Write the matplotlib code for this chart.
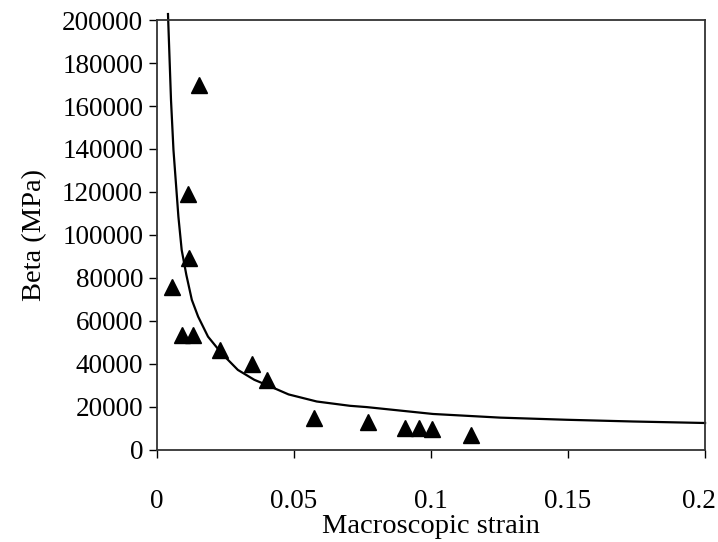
import matplotlib
matplotlib.use("Agg")
import matplotlib.pyplot as plt
import matplotlib.transforms as mtransforms

# measured points (triangles)
strain_pts = [0.0055, 0.0153, 0.0113, 0.0117, 0.0090, 0.0130, 0.0230, 0.0347,
              0.0400, 0.0572, 0.0770, 0.0905, 0.0957, 0.1005, 0.1145]
beta_pts = [76000, 170000, 119000, 89500, 53500, 53500, 46500, 39800,
            32500, 14800, 13000, 10300, 10300, 9600, 6800]

# fitted curve
strain_fit = [0.0040, 0.0051, 0.0060, 0.0069, 0.0078, 0.0090, 0.0107, 0.0127,
              0.0150, 0.0186, 0.0235, 0.0295, 0.0355, 0.0415, 0.0480, 0.0583,
              0.0704, 0.0765, 0.1007, 0.1252, 0.1495, 0.1737, 0.2000]
beta_fit = [202800, 162800, 139500, 124000, 108500, 93000, 81400, 69800,
            62000, 52700, 45000, 37200, 32600, 29400, 25800, 22500,
            20500, 19900, 16700, 15000, 14000, 13200, 12500]

xticks = [0, 0.05, 0.1, 0.15, 0.2]
xlabels = ["0", "0.05", "0.1", "0.15", "0.2"]
yticks = list(range(0, 200001, 20000))

plt.rcParams['font.family'] = ['Liberation Serif', 'DejaVu Serif']

fig = plt.figure(figsize=(7.18, 5.42), dpi=100)
ax = fig.add_axes([0.2187, 0.170, 0.7633, 0.793])

ax.plot(strain_fit, beta_fit, color="black", lw=1.6, clip_on=False, zorder=2,
        solid_joinstyle="round")
ax.plot(strain_pts, beta_pts, linestyle="none", marker="^", ms=11,
        color="black", zorder=3)

ax.set_xlim(0, 0.2)
ax.set_ylim(0, 200000)
ax.set_xticks(xticks)
ax.set_xticklabels(xlabels)
ax.set_yticks(yticks)
ax.set_yticklabels([str(v) for v in yticks])

ax.tick_params(direction="out", length=6, width=1, labelsize=19.5, pad=4)
ax.tick_params(axis="x", pad=22)
for s in ax.spines.values():
    s.set_linewidth(1.3)
    s.set_color("#333333")

# last x label sits a bit left so it stays inside the picture
lab = ax.get_xticklabels()[-1]
lab.set_transform(lab.get_transform() +
                  mtransforms.ScaledTranslation(-0.06, 0, fig.dpi_scale_trans))

ax.set_xlabel("Macroscopic strain", fontsize=20.5, labelpad=0)
ax.set_ylabel("Beta (MPa)", fontsize=20.5, labelpad=11)

fig.savefig("out.png", dpi=100)
